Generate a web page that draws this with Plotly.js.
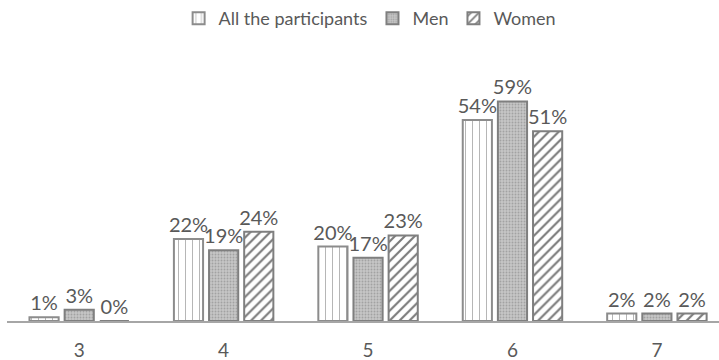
<!DOCTYPE html>
<html>
<head>
<meta charset="utf-8">
<script src="https://cdn.plot.ly/plotly-3.0.1.min.js"></script>
<style>
  html, body { margin: 0; padding: 0; background: #fff; }
  #chart { width: 719px; height: 360px; }
</style>
</head>
<body>
<div id="chart"></div>
<script>
// Scores on the scale
var categories = ['3', '4', '5', '6', '7'];
// Share of respondents per score (%)
var allParticipants = [1, 22, 20, 54, 2];
var men = [3, 19, 17, 59, 2];
var women = [0, 24, 23, 51, 2];
var seriesNames = ['All the participants', 'Men', 'Women'];

var textColor = '#595959';
var fontFamily = 'Lato, "Open Sans", sans-serif';
var labelFont = { family: fontFamily, size: 20, color: textColor };

function barTrace(name, values, fill, pattern, line) {
  return {
    type: 'bar',
    name: name,
    x: categories,
    y: values,
    text: values.map(function (v) { return v + '%'; }),
    textposition: 'outside',
    textfont: labelFont,
    constraintext: 'none',
    cliponaxis: false,
    hoverinfo: 'skip',
    marker: {
      color: fill,
      pattern: pattern,
      line: { color: line, width: 2 }
    }
  };
}

var data = [
  barTrace(seriesNames[0], allParticipants, '#ffffff',
    { shape: '|', fgcolor: '#b4b4b4', bgcolor: '#ffffff', size: 7, solidity: 0.14, fillmode: 'replace' },
    '#8c8c8c'),
  barTrace(seriesNames[1], men, '#bdbdbd',
    { shape: '.', fgcolor: '#a2a2a2', bgcolor: '#c6c6c6', size: 3, solidity: 0.3, fillmode: 'replace' },
    '#7f7f7f'),
  barTrace(seriesNames[2], women, '#ffffff',
    { shape: '/', fgcolor: '#7a7a7a', bgcolor: '#ffffff', size: 7, solidity: 0.3, fillmode: 'replace' },
    '#7f7f7f')
];

var layout = {
  width: 719,
  height: 360,
  margin: { l: 7, r: 0, t: 40, b: 39 },
  paper_bgcolor: '#ffffff',
  plot_bgcolor: '#ffffff',
  barmode: 'group',
  bargap: 0.27,
  bargroupgap: 0.17,
  showlegend: true,
  legend: {
    orientation: 'h',
    x: 0.51, xanchor: 'center',
    y: 1.0, yanchor: 'top',
    yref: 'container',
    font: { family: fontFamily, size: 18, color: textColor },
    itemwidth: 30,
    tracegroupgap: 0
  },
  xaxis: {
    type: 'category',
    range: [-0.5, 4.43],
    showline: true,
    linecolor: '#a6a6a6',
    linewidth: 1.5,
    showgrid: false,
    zeroline: false,
    ticks: '',
    tickfont: { family: fontFamily, size: 19, color: textColor },
    ticklabelstandoff: 12
  },
  yaxis: {
    range: [0, 75.5],
    visible: false,
    showgrid: false,
    zeroline: false
  }
};

Plotly.newPlot('chart', data, layout, { displayModeBar: false, staticPlot: true });
</script>
</body>
</html>
